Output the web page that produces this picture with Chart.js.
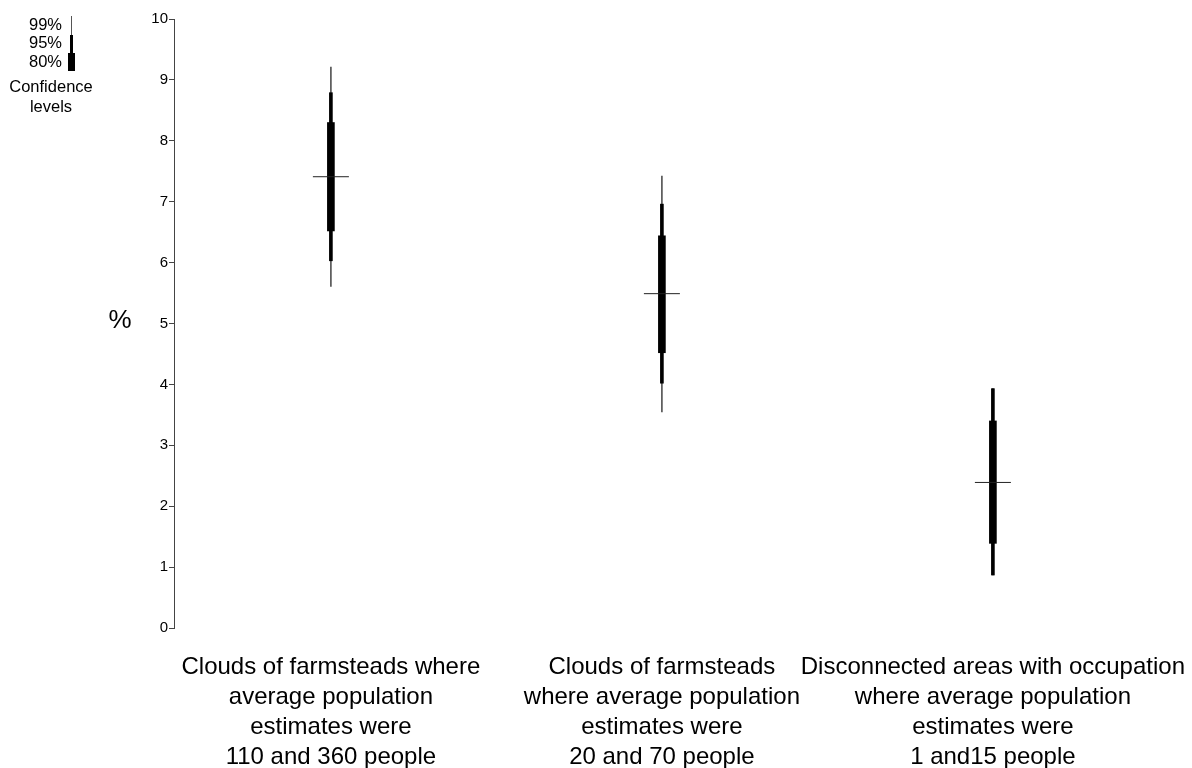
<!DOCTYPE html>
<html>
<head>
<meta charset="utf-8">
<script src="https://cdn.jsdelivr.net/npm/chart.js@4/dist/chart.umd.min.js"></script>
<style>
  html, body { margin: 0; padding: 0; background: #fff; }
  #wrap { position: relative; width: 1192px; height: 768px; }
</style>
</head>
<body>
<div id="wrap"><canvas id="chart" width="1192" height="768"></canvas></div>
<script>
// данные
const categories = [
    ['Clouds of farmsteads where', 'average population', 'estimates were', '110 and 360 people'],
    ['Clouds of farmsteads', 'where average population', 'estimates were', '20 and 70 people'],
    ['Disconnected areas with occupation', 'where average population', 'estimates were', '1 and15 people']
];
const positions = [1, 2, 3];
const median = [7.41, 5.49, 2.39];
const ci99Low = [5.61, 3.55, 0.87];
const ci99High = [9.21, 7.42, 3.93];
const ci95Low = [6.03, 4.02, 0.87];
const ci95High = [8.79, 6.96, 3.93];
const ci80Low = [6.52, 4.52, 1.39];
const ci80High = [8.30, 6.44, 3.40];
const yTicks = [0, 1, 2, 3, 4, 5, 6, 7, 8, 9, 10];
const legendLabels = ['99%', '95%', '80%'];

const FONT = '"Liberation Sans", Arial, sans-serif';

function interval(lo, hi) {
    return positions.map((x, i) => ({ x: x, y: [lo[i], hi[i]] }));
}

// легенда и подпись оси
const extras = {
    id: 'extras',
    afterDraw(chart) {
        const ctx = chart.ctx;
        const y = chart.scales.y;
        ctx.save();
        ctx.fillStyle = '#000';
        ctx.font = '26px ' + FONT;
        ctx.textAlign = 'center';
        ctx.textBaseline = 'middle';
        ctx.fillText('%', 120, (y.top + y.bottom) / 2 - 3);

        // условные обозначения
        ctx.fillStyle = '#555';
        ctx.fillRect(71, 16, 1, 19);
        ctx.fillStyle = '#000';
        ctx.fillRect(70, 35, 3, 18);
        ctx.fillRect(68, 53, 7, 18);
        ctx.font = '16.5px ' + FONT;
        ctx.textAlign = 'right';
        ctx.fillText(legendLabels[0], 62, 25);
        ctx.fillText(legendLabels[1], 62, 43);
        ctx.fillText(legendLabels[2], 62, 62);
        ctx.textAlign = 'center';
        ctx.fillText('Confidence', 51, 87);
        ctx.fillText('levels', 51, 107);
        ctx.restore();
    }
};

const ctx = document.getElementById('chart').getContext('2d');
const chart = new Chart(ctx, {
    type: 'bar',
    data: {
        datasets: [
            {
                label: '99%',
                data: interval(ci99Low, ci99High),
                backgroundColor: '#555',
                barThickness: 1,
                grouped: false,
                order: 3
            },
            {
                label: '95%',
                data: interval(ci95Low, ci95High),
                backgroundColor: '#000',
                barThickness: 3,
                grouped: false,
                order: 2
            },
            {
                label: '80%',
                data: interval(ci80Low, ci80High),
                backgroundColor: '#000',
                barThickness: 7,
                grouped: false,
                order: 1
            },
            {
                type: 'scatter',
                label: 'median',
                data: positions.map((x, i) => ({ x: x, y: median[i] })),
                pointStyle: 'line',
                pointRadius: 18,
                borderColor: '#222',
                borderWidth: 1,
                order: 0
            }
        ]
    },
    options: {
        responsive: false,
        animation: false,
        layout: { padding: { top: 18, right: 25, left: 0, bottom: 0 } },
        plugins: {
            legend: { display: false },
            tooltip: { enabled: false }
        },
        scales: {
            x: {
                type: 'linear',
                offset: false,
                min: 0.526,
                max: 3.526,
                grid: { display: false },
                border: { display: false },
                afterBuildTicks(scale) {
                    scale.ticks = positions.map(v => ({ value: v }));
                },
                afterFit(scale) {
                    scale.height = 140;
                    scale.paddingLeft = 0;
                    scale.paddingRight = 0;
                },
                ticks: {
                    autoSkip: false,
                    maxRotation: 0,
                    padding: 16,
                    color: '#000',
                    font: { family: FONT, size: 24, lineHeight: 1.25 },
                    callback: (v) => categories[positions.indexOf(v)]
                }
            },
            y: {
                min: 0,
                max: 10,
                afterBuildTicks(scale) {
                    scale.ticks = yTicks.map(v => ({ value: v }));
                },
                afterFit(scale) { scale.width = 174; },
                grid: {
                    display: true,
                    drawOnChartArea: false,
                    drawTicks: true,
                    tickLength: 5,
                    color: '#444'
                },
                border: { display: true, color: '#444', width: 1 },
                ticks: {
                    padding: 1,
                    color: '#000',
                    font: { family: FONT, size: 15 }
                }
            }
        }
    },
    plugins: [extras]
});
</script>
</body>
</html>
